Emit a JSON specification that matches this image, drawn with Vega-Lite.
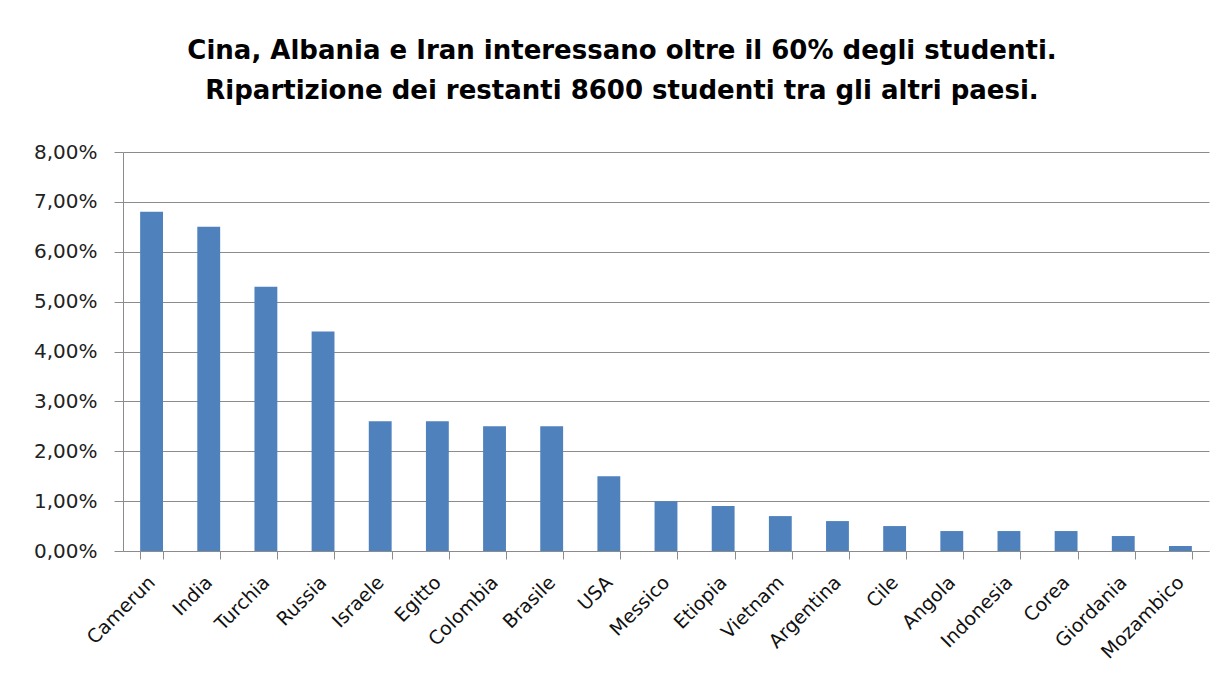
{
  "$schema": "https://vega.github.io/schema/vega-lite/v6.json",
  "width": 1086,
  "height": 399,
  "autosize": {"type": "none"},
  "padding": {"left": 123, "top": 152, "right": 19, "bottom": 142},
  "background": "white",
  "title": {
    "text": ["Cina, Albania e Iran interessano oltre il 60% degli studenti.", "Ripartizione dei restanti 8600 studenti tra gli altri paesi."],
    "font": "DejaVu Sans",
    "fontSize": 26,
    "fontWeight": "bold",
    "color": "#000000",
    "lineHeight": 40,
    "offset": 38,
    "dx": -44,
    "anchor": "middle"
  },
  "data": {
    "values": [
      {"paese": "Camerun", "quota": 0.068},
      {"paese": "India", "quota": 0.065},
      {"paese": "Turchia", "quota": 0.053},
      {"paese": "Russia", "quota": 0.044},
      {"paese": "Israele", "quota": 0.026},
      {"paese": "Egitto", "quota": 0.026},
      {"paese": "Colombia", "quota": 0.025},
      {"paese": "Brasile", "quota": 0.025},
      {"paese": "USA", "quota": 0.015},
      {"paese": "Messico", "quota": 0.010},
      {"paese": "Etiopia", "quota": 0.009},
      {"paese": "Vietnam", "quota": 0.007},
      {"paese": "Argentina", "quota": 0.006},
      {"paese": "Cile", "quota": 0.005},
      {"paese": "Angola", "quota": 0.004},
      {"paese": "Indonesia", "quota": 0.004},
      {"paese": "Corea", "quota": 0.004},
      {"paese": "Giordania", "quota": 0.003},
      {"paese": "Mozambico", "quota": 0.001}
    ]
  },
  "mark": {"type": "bar", "color": "#4f81bd"},
  "encoding": {
    "x": {
      "field": "paese",
      "type": "nominal",
      "sort": null,
      "title": null,
      "scale": {"paddingInner": 0.6, "paddingOuter": 0.3},
      "axis": {
        "labelAngle": -45,
        "labelAlign": "right",
        "labelBaseline": "middle",
        "labelFont": "DejaVu Sans",
        "labelFontSize": 19,
        "labelColor": "#111111",
        "labelPadding": 20,
        "labelOverlap": false,
        "tickBand": "extent",
        "tickSize": 8,
        "tickColor": "#8c8c8c",
        "domainColor": "#8c8c8c",
        "grid": false
      }
    },
    "y": {
      "field": "quota",
      "type": "quantitative",
      "title": null,
      "scale": {"domain": [0, 0.08], "nice": false},
      "axis": {
        "values": [0, 0.01, 0.02, 0.03, 0.04, 0.05, 0.06, 0.07, 0.08],
        "labelExpr": "replace(format(datum.value, '.2%'), '.', ',')",
        "labelFont": "DejaVu Sans",
        "labelFontSize": 20,
        "labelColor": "#222222",
        "labelPadding": 17,
        "tickSize": 9,
        "tickColor": "#8c8c8c",
        "domainColor": "#8c8c8c",
        "gridColor": "#8c8c8c",
        "gridOpacity": 1
      }
    }
  },
  "config": {"view": {"stroke": null}}
}
